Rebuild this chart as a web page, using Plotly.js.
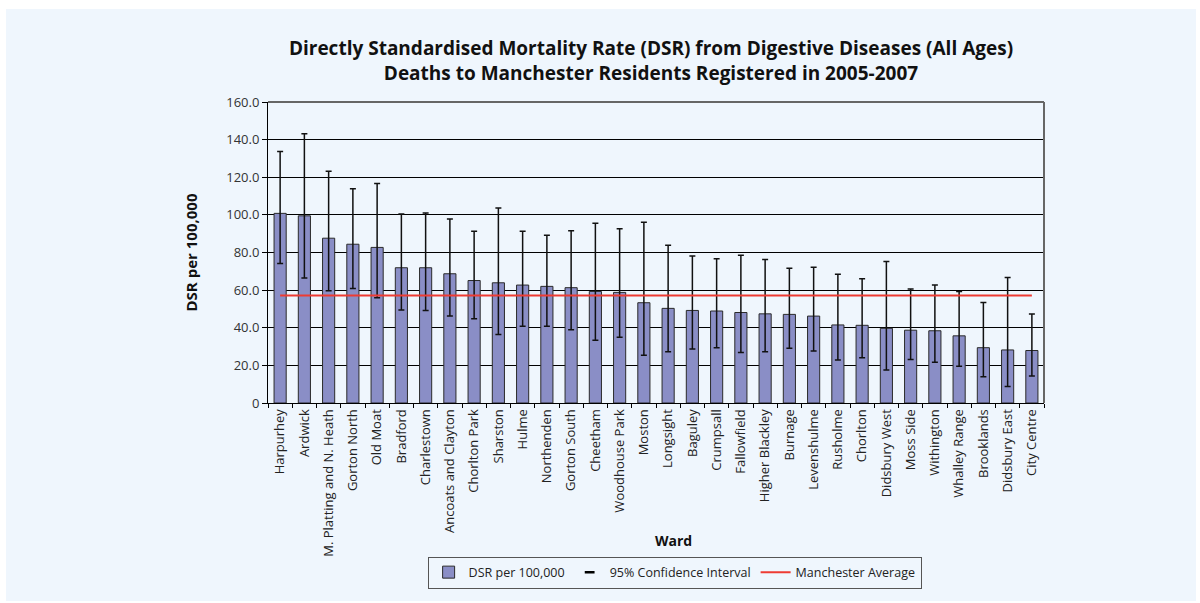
<!DOCTYPE html>
<html>
<head>
<meta charset="utf-8">
<script src="https://cdn.plot.ly/plotly-3.0.1.min.js"></script>
<style>
  html, body { margin: 0; padding: 0; background: #ffffff; }
  #chart { position: absolute; left: 6px; top: 9px; width: 1190px; height: 592px; }
</style>
</head>
<body>
<div id="chart"></div>
<script>
const wards = ["Harpurhey","Ardwick","M. Platting and N. Heath","Gorton North","Old Moat","Bradford","Charlestown","Ancoats and Clayton","Chorlton Park","Sharston","Hulme","Northenden","Gorton South","Cheetham","Woodhouse Park","Moston","Longsight","Baguley","Crumpsall","Fallowfield","Higher Blackley","Burnage","Levenshulme","Rusholme","Chorlton","Didsbury West","Moss Side","Withington","Whalley Range","Brooklands","Didsbury East","City Centre"];
const dsr =   [100.8, 99.5, 87.6, 84.4, 82.7, 71.9, 71.9, 68.7, 65.1, 63.9, 62.7, 62.0, 61.3, 59.3, 58.8, 53.3, 50.3, 49.2, 48.9, 48.1, 47.4, 47.1, 46.2, 41.5, 41.3, 39.7, 38.7, 38.4, 35.7, 29.4, 28.2, 27.9];
const lower = [74.2, 66.5, 59.7, 60.9, 56.0, 49.5, 49.2, 46.2, 44.8, 36.4, 40.8, 40.8, 38.9, 33.3, 35.0, 25.4, 27.2, 28.7, 29.4, 26.8, 27.2, 29.1, 27.7, 22.8, 24.0, 17.5, 23.1, 21.7, 19.5, 14.0, 8.8, 14.4];
const upper = [133.7, 143.1, 123.2, 113.9, 116.7, 100.4, 101.0, 97.8, 91.3, 103.6, 91.3, 89.2, 91.5, 95.5, 92.6, 96.1, 83.8, 78.2, 76.7, 78.6, 76.3, 71.6, 72.1, 68.4, 66.0, 75.2, 60.6, 62.7, 59.3, 53.4, 66.7, 47.3];
const manchesterAverage = 57.1;
const yTickVals = [0, 20, 40, 60, 80, 100, 120, 140, 160];
const yTickText = ["0", "20.0", "40.0", "60.0", "80.0", "100.0", "120.0", "140.0", "160.0"];

const panel = "#eff6fd";
const font = "'Open Sans', 'Noto Sans', sans-serif";

const errPlus = upper.map((u, i) => u - dsr[i]);
const errMinus = lower.map((l, i) => dsr[i] - l);

const traces = [
  {
    type: "bar",
    name: "DSR per 100,000",
    x: wards,
    y: dsr,
    marker: { color: "#8a8ec6", line: { color: "#2a2a2a", width: 1 } },
    error_y: { type: "data", symmetric: false, array: errPlus, arrayminus: errMinus, color: "#111111", thickness: 1.5, width: 3 },
    hoverinfo: "x+y"
  },
  {
    type: "scatter",
    mode: "markers",
    name: "95% Confidence Interval",
    x: [null],
    y: [null],
    marker: { symbol: "line-ew-open", size: 7, color: "#000000", line: { color: "#000000", width: 2.5 } }
  },
  {
    type: "scatter",
    mode: "lines",
    name: "Manchester Average",
    x: wards,
    y: wards.map(() => manchesterAverage),
    line: { color: "#ee3b33", width: 2 }
  }
];

const layout = {
  width: 1190,
  height: 592,
  margin: { l: 262, r: 152, t: 93, b: 194 },
  paper_bgcolor: panel,
  plot_bgcolor: panel,
  font: { family: font, color: "#222222", size: 13 },
  title: {
    text: "<b>Directly Standardised Mortality Rate (DSR) from Digestive Diseases (All Ages)<br>Deaths to Manchester Residents Registered in 2005-2007</b>",
    font: { family: font, size: 19, color: "#111111" },
    x: (651 - 6) / 1190,
    xanchor: "center",
    y: 1 - (55 - 9) / 592,
    yanchor: "top"
  },
  bargap: 0.5,
  showlegend: true,
  legend: {
    orientation: "h",
    x: 0.524,
    xanchor: "center",
    y: -0.51,
    yanchor: "top",
    bgcolor: panel,
    bordercolor: "#555555",
    borderwidth: 1,
    font: { family: font, size: 12.5, color: "#222222" },
    itemwidth: 30,
    tracegroupgap: 0
  },
  xaxis: {
    type: "category",
    tickangle: -90,
    showline: true,
    linecolor: "#000000",
    linewidth: 1,
    ticks: "outside",
    tickson: "boundaries",
    ticklen: 4,
    tickcolor: "#000000",
    showgrid: false,
    tickfont: { family: font, size: 13, color: "#222222" },
    automargin: false,
    fixedrange: true
  },
  yaxis: {
    range: [0, 160],
    tickvals: yTickVals,
    ticktext: yTickText,
    showline: true,
    linecolor: "#000000",
    linewidth: 1,
    ticks: "outside",
    ticklen: 5,
    tickcolor: "#000000",
    showgrid: true,
    gridcolor: "#000000",
    gridwidth: 1,
    zeroline: false,
    tickfont: { family: font, size: 13, color: "#333333" },
    title: { text: "<b>DSR per 100,000</b>", font: { family: font, size: 15, color: "#111111" }, standoff: 24 },
    automargin: false,
    fixedrange: true
  },
  shapes: [
    { type: "line", xref: "paper", yref: "paper", x0: 0, x1: 1, y0: 1, y1: 1, line: { color: "#666666", width: 2 } },
    { type: "line", xref: "paper", yref: "paper", x0: 1, x1: 1, y0: 0, y1: 1, line: { color: "#666666", width: 2 } }
  ],
  annotations: [
    { text: "<b>Ward</b>", xref: "paper", yref: "paper", x: (673 - 268) / 776, y: (406 - 545) / 304, xanchor: "center", yanchor: "middle", showarrow: false, font: { family: font, size: 14, color: "#111111" } }
  ]
};

Plotly.newPlot("chart", traces, layout, { displayModeBar: false, staticPlot: true });
</script>
</body>
</html>
